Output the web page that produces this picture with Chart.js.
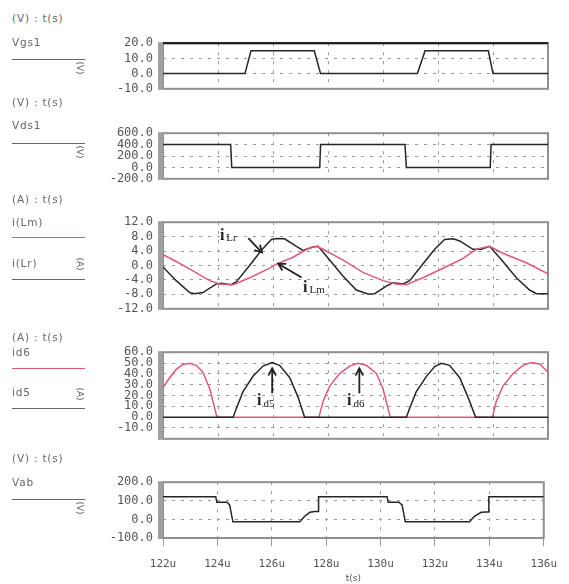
<!DOCTYPE html>
<html>
<head>
<meta charset="utf-8">
<script src="https://cdn.jsdelivr.net/npm/chart.js@4/dist/chart.umd.min.js"></script>
<style>
  body { margin:0; background:#fff; width:569px; height:584px; overflow:hidden; position:relative; font-family:"DejaVu Sans", sans-serif; }
  canvas { position:absolute; left:0; }
  .lg { position:absolute; left:12px; font-size:10.5px; color:#666; letter-spacing:0.8px; white-space:nowrap; line-height:12px; margin-top:-6px; z-index:2; }
  .ln { position:absolute; left:12px; width:73px; height:0; border-top:1.5px solid #666; z-index:2; }
  .ln.pink { border-top-color:#e2587c; }
  .unit { position:absolute; font-size:9px; color:#666; transform:rotate(90deg); transform-origin:center; z-index:2; line-height:10px; }
</style>
</head>
<body>
<div class="lg" style="top:18px">(V) : t(s)</div>
<div class="lg" style="top:42px">Vgs1</div>
<div class="ln" style="top:59px"></div>
<div class="unit" style="left:73px;top:63px">(V)</div>

<div class="lg" style="top:102px">(V) : t(s)</div>
<div class="lg" style="top:125px">Vds1</div>
<div class="ln" style="top:143px"></div>
<div class="unit" style="left:73px;top:147px">(V)</div>

<div class="lg" style="top:199px">(A) : t(s)</div>
<div class="lg" style="top:222px">i(Lm)</div>
<div class="ln pink" style="top:237px"></div>
<div class="lg" style="top:263px">i(Lr)</div>
<div class="unit" style="left:73px;top:259px">(A)</div>
<div class="ln" style="top:279px"></div>

<div class="lg" style="top:337px">(A) : t(s)</div>
<div class="lg" style="top:352px">id6</div>
<div class="ln pink" style="top:368px"></div>
<div class="lg" style="top:392px">id5</div>
<div class="unit" style="left:73px;top:389px">(A)</div>
<div class="ln" style="top:408px"></div>

<div class="lg" style="top:458px">(V) : t(s)</div>
<div class="lg" style="top:482px">Vab</div>
<div class="ln" style="top:499px"></div>
<div class="unit" style="left:73px;top:503px">(V)</div>

<canvas id="p1"></canvas>
<canvas id="p2"></canvas>
<canvas id="p3"></canvas>
<canvas id="p4"></canvas>
<canvas id="p5"></canvas>

<script>
// time axis, microseconds
const tMin = 122, tMax = 136, tStep = 2;

// gate-source voltage
const vgsT = [122, 124.98, 125.2, 127.5, 127.73, 131.25, 131.53, 133.83, 134.0, 136];
const vgs1 = [0, 0, 15, 15, 0, 0, 15, 15, 0, 0];

// drain-source voltage
const vdsT = [122, 124.46, 124.5, 127.7, 127.73, 130.8, 130.85, 133.9, 133.93, 136];
const vds1 = [400, 400, 0, 0, 400, 400, 0, 0, 400, 400];

// magnetizing current
const iLmT = [122.0, 122.48, 123.09, 123.7, 124.06, 124.55, 125.15, 125.88, 126.12, 126.73, 127.33, 127.58,
  127.82, 128.55, 129.27, 130.0, 130.48, 130.85, 131.45, 132.18, 132.9, 133.39, 133.88, 134.36, 135.21, 136.0];
const iLm = [3.0, 1.1, -1.5, -4.2, -5.1, -5.3, -3.4, -0.75, 0.4, 2.3, 4.9, 5.3,
  4.5, 1.5, -1.9, -4.2, -5.1, -5.3, -3.4, -0.75, 1.9, 4.5, 5.3, 3.4, 0.75, -2.3];

// resonant current
const iLrT = [122.0, 122.48, 122.97, 123.15, 123.45, 123.94, 124.12, 124.48, 124.67, 125.15, 125.58, 125.94,
  126.12, 126.42, 126.85, 127.09, 127.45, 127.64, 128.06, 128.55, 129.03, 129.45, 129.7, 130.12, 130.36,
  130.73, 130.97, 131.45, 131.88, 132.24, 132.55, 132.79, 133.27, 133.58, 133.88, 134.36, 134.85, 135.33,
  135.58, 136.0];
const iLr = [-0.4, -4.2, -7.5, -7.8, -7.5, -5.1, -4.9, -5.3, -4.5, 0, 4.2, 7.2,
  7.5, 7.4, 5.3, 4.2, 5.1, 5.3, 1.5, -3.0, -6.8, -7.9, -7.8, -5.7, -4.8,
  -5.1, -4.2, 0.4, 4.5, 7.2, 7.4, 6.8, 4.5, 4.5, 5.3, 1.1, -3.4, -6.8,
  -7.8, -7.8];

// rectifier diode currents
const id6T = [122.0, 122.24, 122.48, 122.73, 122.97, 123.21, 123.45, 123.7, 123.88, 123.96,
  127.67, 127.82, 128.06, 128.42, 128.79, 129.09, 129.39, 129.76, 130.0, 130.18, 130.27,
  133.98, 134.12, 134.36, 134.73, 135.09, 135.39, 135.7, 136.0];
const id6 = [27.4, 36.4, 44.1, 48.7, 49.7, 47.9, 41.5, 26.2, 8.2, 0,
  0, 14.6, 28.7, 40.3, 47.2, 49.7, 47.9, 40.3, 26.2, 8.2, 0,
  0, 14.6, 28.7, 40.3, 47.9, 50.5, 49.2, 41.5];

const id5T = [122.0, 124.55, 124.67, 124.91, 125.27, 125.64, 125.96, 126.24, 126.61, 126.91, 127.15,
  130.85, 130.97, 131.21, 131.58, 131.88, 132.12, 132.42, 132.79, 133.09, 133.37, 136.0];
const id5 = [0, 0, 8.2, 23.6, 37.7, 47.2, 50.5, 47.9, 36.4, 18.5, 0,
  0, 8.2, 23.6, 37.7, 46.7, 49.7, 47.9, 36.4, 18.5, 0, 0];

// bridge output voltage
const vabT = [122, 123.94, 123.98, 124.36, 124.45, 124.57, 127.03, 127.21, 127.4, 127.58, 127.7, 127.72,
  130.24, 130.28, 130.67, 130.79, 130.91, 133.27, 133.45, 133.7, 133.88, 133.96, 133.98, 136];
const vab = [122, 122, 92, 92, 78, -13, -13, 17, 38, 42, 42, 122,
  122, 92, 92, 78, -13, -13, 17, 38, 40, 40, 122, 122];

const PINK = '#e2587c';
const INK = '#262626';
const TXT = '#555';
const GRID = '#999';

const pts = (t, v) => t.map((x, i) => ({ x, y: v[i] }));

const frame = {
  id: 'frame',
  beforeDatasetsDraw(chart, args, o) {
    const { ctx, chartArea: a } = chart;
    ctx.save();
    ctx.setLineDash([]);
    ctx.strokeStyle = '#8f8f8f';
    ctx.lineWidth = 2;
    ctx.strokeRect(a.left, a.top, a.right - a.left, a.bottom - a.top);
    ctx.fillStyle = '#a0a0a0';
    ctx.fillRect(a.left - 5, a.top - 1, 5, a.bottom - a.top + 2);
    if (o.topColor) {
      ctx.strokeStyle = o.topColor;
      ctx.lineWidth = 2.2;
      ctx.beginPath();
      ctx.moveTo(a.left, a.top);
      ctx.lineTo(a.right, a.top);
      ctx.stroke();
    }
    ctx.restore();
  }
};

const notes = {
  id: 'notes',
  afterDatasetsDraw(chart, args, o) {
    if (!o.items) return;
    const { ctx, scales: { x, y } } = chart;
    ctx.save();
    o.items.forEach(n => {
      const px = x.getPixelForValue(n.at[0]), py = y.getPixelForValue(n.at[1]);
      ctx.fillStyle = '#222';
      ctx.textAlign = 'left';
      ctx.textBaseline = 'middle';
      ctx.font = 'bold 16px "Liberation Serif"';
      ctx.fillText('i', px, py);
      const w = ctx.measureText('i').width;
      ctx.font = '11px "Liberation Serif"';
      ctx.fillText(n.sub, px + w + 2, py + 3);

      const x0 = x.getPixelForValue(n.from[0]), y0 = y.getPixelForValue(n.from[1]);
      const x1 = x.getPixelForValue(n.to[0]), y1 = y.getPixelForValue(n.to[1]);
      ctx.strokeStyle = '#222';
      ctx.lineWidth = 1.8;
      ctx.beginPath();
      ctx.moveTo(x0, y0);
      ctx.lineTo(x1, y1);
      ctx.stroke();
      const ang = Math.atan2(y1 - y0, x1 - x0), h = 8;
      ctx.beginPath();
      ctx.moveTo(x1 - h * Math.cos(ang - 0.5), y1 - h * Math.sin(ang - 0.5));
      ctx.lineTo(x1, y1);
      ctx.lineTo(x1 - h * Math.cos(ang + 0.5), y1 - h * Math.sin(ang + 0.5));
      ctx.stroke();
    });
    ctx.restore();
  }
};

function line(t, v, color) {
  return { data: pts(t, v), borderColor: color, borderWidth: 1.5, pointRadius: 0, tension: 0, fill: false };
}

function makePanel(id, top, bottom, yMin, yMax, yStep, datasets, extra = {}) {
  const last = !!extra.last;
  const padTop = 8, padBottom = last ? 46 : 8;
  const cv = document.getElementById(id);
  cv.width = 569;
  cv.height = bottom - top + padTop + padBottom;
  cv.style.top = (top - padTop) + 'px';

  return new Chart(cv, {
    type: 'line',
    data: { datasets },
    plugins: [frame, notes],
    options: {
      responsive: false,
      animation: false,
      layout: { padding: { left: 0, right: 21, top: padTop, bottom: last ? 0 : padBottom } },
      plugins: {
        legend: { display: false },
        tooltip: { enabled: false },
        frame: { topColor: extra.topColor },
        notes: { items: extra.notes }
      },
      scales: {
        x: {
          type: 'linear', min: tMin, max: tMax,
          afterBuildTicks: s => { s.ticks = []; for (let v = tMin; v <= tMax; v += tStep) s.ticks.push({ value: v }); },
          grid: { color: GRID, lineWidth: 1, drawTicks: last, tickLength: 8 },
          border: { display: false, dash: [3, 6] },
          ticks: {
            display: last, autoSkip: false, padding: 12, color: TXT, maxRotation: 0,
            font: { family: '"DejaVu Sans Mono"', size: 11 },
            callback: v => v + 'u'
          },
          title: { display: last, text: 't(s)', color: TXT, padding: 0, font: { family: '"DejaVu Sans"', size: 9 } },
          afterFit: s => { s.height = last ? padBottom : 0; }
        },
        y: {
          min: yMin, max: yMax,
          afterBuildTicks: s => { s.ticks = []; for (let v = yMin; v <= yMax + 1e-9; v += yStep) s.ticks.push({ value: v }); },
          grid: { color: GRID, lineWidth: 1, drawTicks: false },
          border: { display: false, dash: [3, 6] },
          ticks: {
            autoSkip: false, padding: 10, color: TXT,
            font: { family: '"DejaVu Sans Mono"', size: 12 },
            callback: v => (extra.hideBelow !== undefined && v < extra.hideBelow) ? '' : v.toFixed(1)
          },
          afterFit: s => { s.width = 163; }
        }
      }
    }
  });
}

makePanel('p1', 34, 98, -10, 20, 10, [line(vgsT, vgs1, INK)], { topColor: '#222' });
makePanel('p2', 124, 188, -200, 600, 200, [line(vdsT, vds1, INK)]);
makePanel('p3', 213, 318, -12, 12, 4, [line(iLmT, iLm, PINK), line(iLrT, iLr, INK)], {
  notes: [
    { sub: 'Lr', at: [124.07, 8.3], from: [125.1, 7.6], to: [125.6, 3.6] },
    { sub: 'Lm', at: [127.09, -6.1], from: [127.04, -3.3], to: [126.19, 0.5] }
  ]
});
makePanel('p4', 343, 448, -20, 60, 10, [line(id5T, id5, INK), line(id6T, id6, PINK)], {
  hideBelow: -10,
  notes: [
    { sub: 'd5', at: [125.42, 15], from: [125.97, 22], to: [125.97, 45] },
    { sub: 'd6', at: [128.69, 15], from: [129.14, 22], to: [129.14, 45] }
  ]
});
makePanel('p5', 473, 538, -100, 200, 100, [line(vabT, vab, INK)], { last: true });
</script>
</body>
</html>
